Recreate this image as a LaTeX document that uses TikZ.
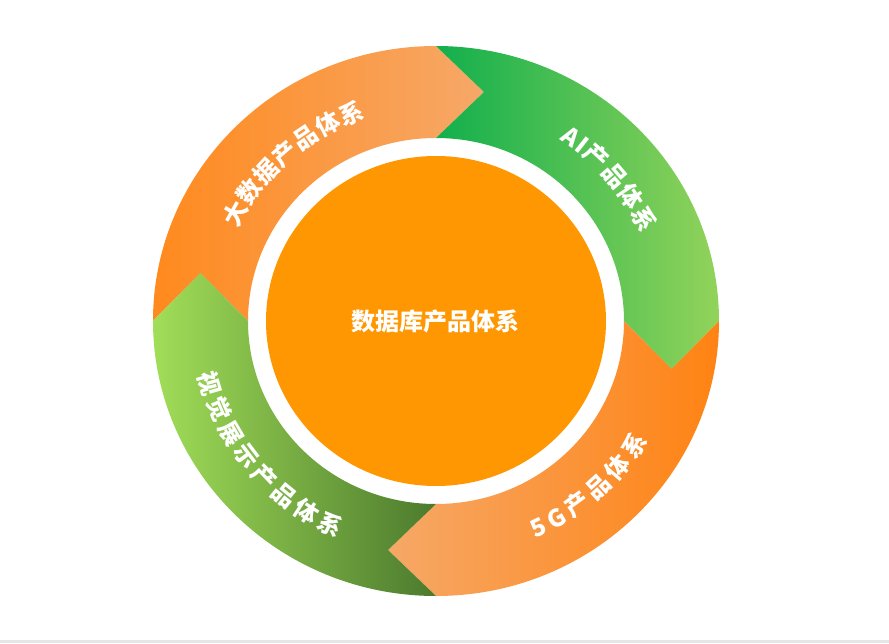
\documentclass[tikz,border=0pt]{standalone}
\usepackage{fontspec}
\newfontfamily\cjk{Noto Sans CJK SC}
\usetikzlibrary{shapes.geometric,decorations.text}

\definecolor{tlLeft}{HTML}{FF8A1E}
\definecolor{tlRight}{HTML}{F6A868}
\definecolor{trLeft}{HTML}{12AF4D}
\definecolor{trRight}{HTML}{92D35A}
\definecolor{brLeft}{HTML}{F6A867}
\definecolor{brRight}{HTML}{FF8313}
\definecolor{blLeft}{HTML}{A1DE58}
\definecolor{blRight}{HTML}{4C7A2D}
\definecolor{coreOrange}{HTML}{FF9702}
\definecolor{stripGrey}{HTML}{E6E6E6}
\newcommand\ringfont{\cjk\bfseries\fontsize{24}{28}\selectfont}

\begin{document}
\begin{tikzpicture}
	[x=1pt,y=1pt,
	 outer/.style={x radius=283,y radius=275},
	 inner/.style={x radius=188,y radius=183},
	 ringtext/.style={decorate,decoration={text along path,text align={fit to path},
	   text color=white,text={|\ringfont|#1}}}]
	\useasboundingbox (-436,-322) rectangle (453,321);
	\fill[stripGrey] (-436,-322) rectangle (453,-319);
	
	% four arrow pieces of the ring
	\shade[left color=tlLeft,right color=tlRight] (-283,0) arc[start angle=180,end angle=90,outer]
		-- (48,229) -- (0,183) arc[start angle=90,end angle=180,inner] -- (-235.5,48) -- cycle;
	\shade[left color=trLeft,right color=trRight] (0,275) arc[start angle=90,end angle=0,outer]
		-- (235.5,-48) -- (188,0) arc[start angle=0,end angle=90,inner] -- (48,229) -- cycle;
	\shade[left color=brLeft,right color=brRight] (283,0) arc[start angle=0,end angle=-90,outer]
		-- (-48,-229) -- (0,-183) arc[start angle=-90,end angle=0,inner] -- (235.5,-48) -- cycle;
	\shade[left color=blLeft,right color=blRight] (0,-275) arc[start angle=-90,end angle=-180,outer]
		-- (-235.5,48) -- (-188,0) arc[start angle=180,end angle=270,inner] -- (-48,-229) -- cycle;
	
	\node (core) [ellipse,fill=coreOrange,minimum width=340pt,minimum height=330pt,
		text=white,font=\cjk\bfseries\fontsize{24}{24}\selectfont] at (0,0) {数据库产品体系};
	
	% labels along the ring
	\path[ringtext=大数据产品体系] (154.5:220 and 214) arc[start angle=154.5,end angle=108.5,x radius=220,y radius=214];
	\path[ringtext=AI产品体系] (56.5:224 and 218) arc[start angle=56.5,end angle=23.5,x radius=224,y radius=218];
	\path[ringtext=5G产品体系] (-66:245 and 238) arc[start angle=-66,end angle=-30,x radius=245,y radius=238];
	\path[ringtext=视觉展示产品体系] (193:244 and 237) arc[start angle=193,end angle=246,x radius=244,y radius=237];
\end{tikzpicture}
\end{document}
